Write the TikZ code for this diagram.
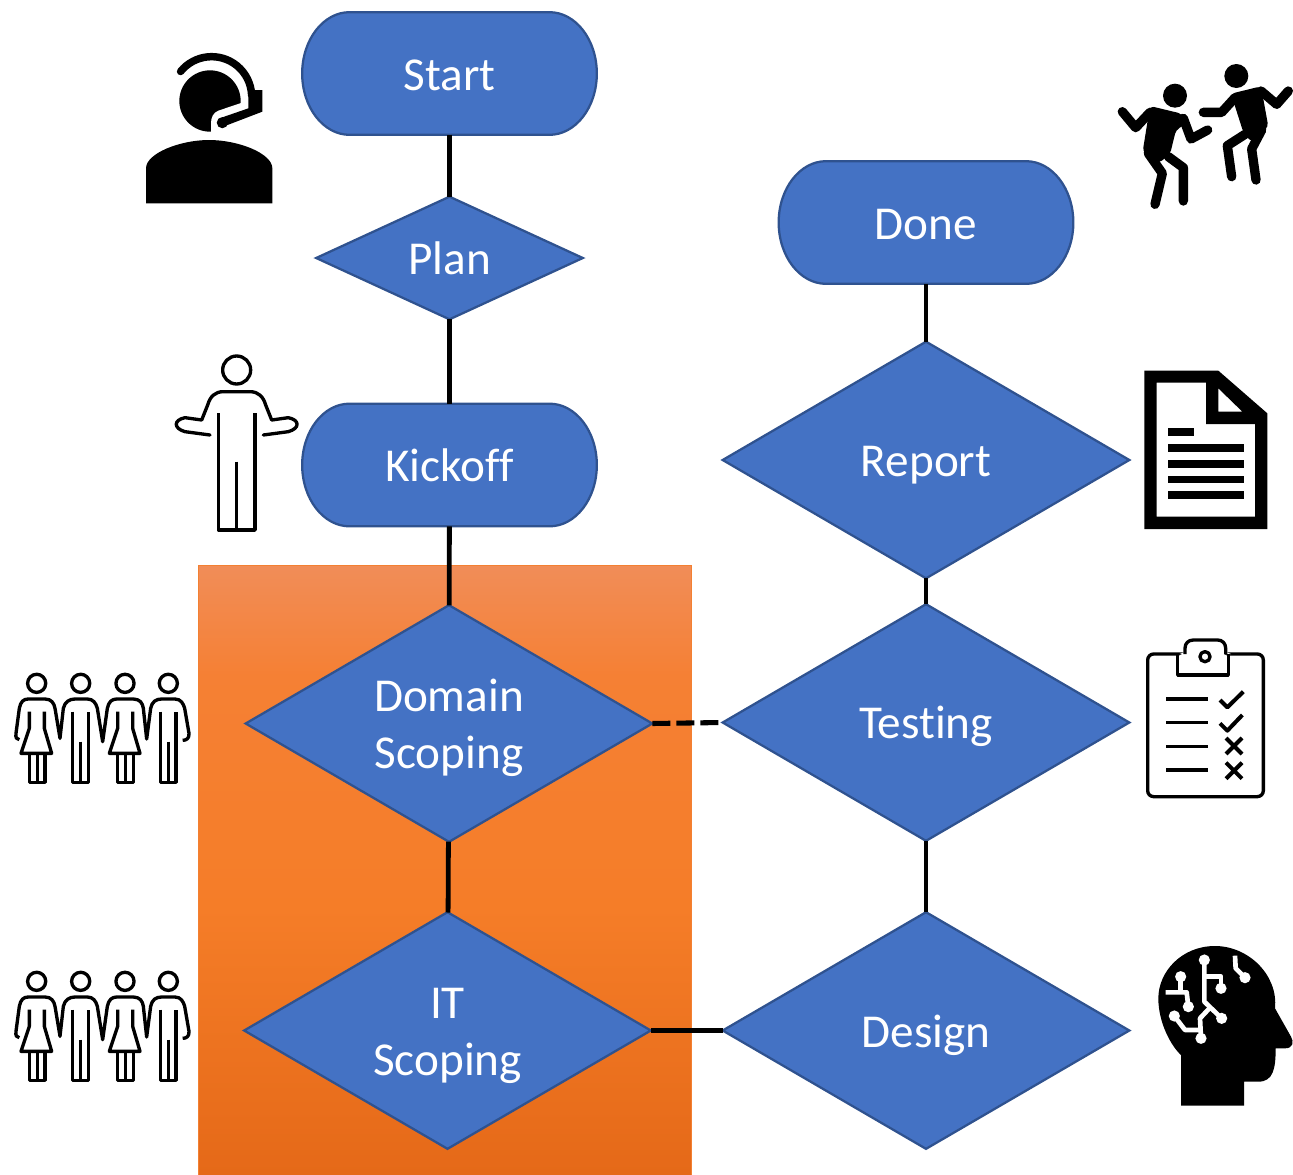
\documentclass[tikz,border=0pt]{standalone}
\usepackage{fontspec}
\setmainfont{Carlito}[Ligatures=NoCommon]
\usetikzlibrary{shapes.geometric}
\definecolor{blockblue}{HTML}{4472C4}
\definecolor{blockedge}{HTML}{2F528F}
\definecolor{orA}{RGB}{241,141,88}
\definecolor{orB}{RGB}{245,128,52}
\definecolor{orC}{RGB}{245,125,40}
\definecolor{orD}{RGB}{229,105,24}
\definecolor{orEdge}{RGB}{243,128,50}
\pgfdeclareverticalshading{orangefade}{100bp}{color(0bp)=(orD); color(25bp)=(orD); color(47bp)=(orC); color(66bp)=(orB); color(75bp)=(orA); color(100bp)=(orA)}
\makeatletter
\pgfdeclareshape{terminator}{
  \inheritsavedanchors[from=rectangle]
  \inheritanchorborder[from=rectangle]
  \inheritanchor[from=rectangle]{center}
  \inheritanchor[from=rectangle]{text}
  \inheritanchor[from=rectangle]{north}
  \inheritanchor[from=rectangle]{south}
  \inheritanchor[from=rectangle]{east}
  \inheritanchor[from=rectangle]{west}
  \backgroundpath{
    \southwest \edef\termL{\the\pgf@x}\edef\termB{\the\pgf@y}
    \northeast \edef\termR{\the\pgf@x}\edef\termT{\the\pgf@y}
    \pgfmathsetlengthmacro\termW{\termR-\termL}
    \pgfmathsetlengthmacro\termH{\termT-\termB}
    \pgfmathsetlengthmacro\termM{\termB+0.5*\termH}
    \pgfmathsetlengthmacro\termXa{\termL+0.161*\termW}
    \pgfmathsetlengthmacro\termXb{\termL+0.072*\termW}
    \pgfmathsetlengthmacro\termXc{\termR-0.161*\termW}
    \pgfmathsetlengthmacro\termXd{\termR-0.072*\termW}
    \pgfmathsetlengthmacro\termYa{\termM+0.27615*\termH}
    \pgfmathsetlengthmacro\termYb{\termM-0.27615*\termH}
    \pgfpathmoveto{\pgfpoint{\termXa}{\termT}}
    \pgfpathcurveto{\pgfpoint{\termXb}{\termT}}{\pgfpoint{\termL}{\termYa}}{\pgfpoint{\termL}{\termM}}
    \pgfpathcurveto{\pgfpoint{\termL}{\termYb}}{\pgfpoint{\termXb}{\termB}}{\pgfpoint{\termXa}{\termB}}
    \pgfpathlineto{\pgfpoint{\termXc}{\termB}}
    \pgfpathcurveto{\pgfpoint{\termXd}{\termB}}{\pgfpoint{\termR}{\termYb}}{\pgfpoint{\termR}{\termM}}
    \pgfpathcurveto{\pgfpoint{\termR}{\termYa}}{\pgfpoint{\termXd}{\termT}}{\pgfpoint{\termXc}{\termT}}
    \pgfpathclose
  }
}
\makeatother
\newcommand{\lbl}[2]{\smash{\raisebox{-#1pt}{#2}}}
\tikzset{
  x=0.75pt,y=-0.75pt,
  labelfont/.style={font=\fontsize{35.4}{42.75}\selectfont,text=white,align=center},
  terminal/.style={shape=terminator,outer sep=0pt,draw=blockedge,fill=blockblue,line width=1.7pt,minimum width=221pt,minimum height=92pt,inner sep=0pt,labelfont},
  decision/.style={diamond,aspect=1.72,outer sep=0pt,draw=blockedge,fill=blockblue,line width=1.7pt,inner sep=0pt,labelfont},
  small decision/.style={decision,minimum width=200pt,minimum height=92pt},
  big decision/.style={decision,minimum width=305pt,minimum height=177.5pt},
  link/.style={line width=3.6pt,black},
  dashlink/.style={line width=3.8pt,black,dash pattern=on 13.5pt off 4.5pt},
  zoomat/.style 2 args={shift={(#1,#2)},x=0.25pt,y=-0.25pt},
  iconline/.style={line width=2.5pt,black,line join=round,fill=none},
  limb/.style={line width=7pt,black,line cap=round,line join=round},
  circuit/.style={line width=3.5pt,white,line join=round},
}
\newcommand{\womanicon}[1]{%
  \begin{scope}[shift={(#1,0)}]
    \draw[iconline] (0,55) circle[radius=6.8pt];
    \draw[iconline] (-22,140) -- (-22,190) -- (-47,265) -- (45,265) -- (23,190) -- (23,140);
    \draw[iconline] (-22,265) -- (-22,352) -- (25,352) -- (25,265) (2,265) -- (2,352);
  \end{scope}}
\newcommand{\manicon}[1]{%
  \begin{scope}[shift={(#1,0)}]
    \draw[iconline] (0,55) circle[radius=6.8pt];
    \draw[iconline] (-24,140) -- (-24,352) -- (23,352) -- (23,140) (0,230) -- (0,352);
  \end{scope}}
\newcommand{\teamicon}[2]{%
  \begin{scope}[zoomat={#1}{#2}]
    \womanicon{80}\manicon{212}\womanicon{345}\manicon{475}
    \draw[iconline] (28,224) .. controls (20,224) and (16,218) .. (18,205) -- (28,130) .. controls (32,110) and (40,102) .. (55,102) -- (105,102) .. controls (125,102) and (132,115) .. (135,130) -- (150,220) -- (160,130) .. controls (165,110) and (178,102) .. (195,102) -- (232,102) .. controls (250,102) and (258,115) .. (262,130) -- (278,230) -- (292,130) .. controls (296,110) and (306,102) .. (320,102) -- (370,102) .. controls (390,102) and (398,115) .. (400,130) -- (410,222) -- (422,130) .. controls (426,110) and (438,102) .. (455,102) -- (495,102) .. controls (512,102) and (520,115) .. (524,130) -- (537,205) .. controls (538,220) and (530,226) .. (518,226);
  \end{scope}}
\begin{document}
\begin{tikzpicture}
\useasboundingbox (0,0) rectangle (1293,1175);
\fill[shading=orangefade] (198.5,565.5) rectangle (691.5,1175);
\draw[line width=1pt,color=orEdge] (198.5,1175) -- (198.5,565.5) -- (691.5,565.5) -- (691.5,1175);

\node[terminal] (start) at (449.5,73.5) {\lbl{13}{Start}};
\node[small decision] (plan) at (449.5,258) {\lbl{12}{Plan}};
\node[terminal] (kickoff) at (449.5,465) {\lbl{12.5}{Kickoff}};
\node[big decision] (domain) at (449,723.5) {\lbl{12.5}{Domain}\\\lbl{12.5}{Scoping}};
\node[big decision] (it) at (447.5,1030.5) {\lbl{12}{IT}\\\lbl{12}{Scoping}};
\node[terminal] (done) at (926,222.5) {\lbl{13}{Done}};
\node[big decision] (report) at (926,460) {\lbl{12}{Report}};
\node[big decision] (testing) at (926,722.5) {\lbl{12}{Testing}};
\node[big decision] (design) at (926,1030.5) {\lbl{12.4}{Design}};

\draw[link] (start) -- (plan);
\draw[link] (plan) -- (kickoff);
\draw[link] (kickoff) -- (domain);
\draw[link] (domain) -- (it);
\draw[link] (it) -- (design);
\draw[dashlink] (domain.east) -- (testing.west);
\draw[link] (design) -- (testing);
\draw[link] (testing) -- (report);
\draw[link] (report) -- (done);

% agent
\begin{scope}[zoomat={130}{40}]
  \fill (48,490) -- (48,385) .. controls (48,340) and (150,300) .. (237,300) .. controls (325,300) and (427,340) .. (427,385) -- (427,490) -- cycle;
  \fill (240,183) circle[radius=23pt];
  \fill[white] (336,188) -- (265,212) .. controls (250,218) and (243,232) .. (243,250) -- (243,285) -- (350,285) -- (350,188) -- cycle;
  \draw[line width=5.6pt,line cap=round] (151.7,94.5) arc[start angle=141,end angle=2,radius=30pt];
  \fill (355,150) -- (397,150) -- (397,215) -- (290,256) -- (277,232) -- (355,205) -- cycle;
  \fill (277,248) circle[radius=4.2pt];
\end{scope}

% dancers
\begin{scope}[zoomat={1105}{55}]
  \fill (210,122) circle[radius=9pt];
  \fill (394,63) circle[radius=9pt];
  \fill[rounded corners=3pt] (135,153) -- (230,176) -- (245,205) -- (213,225) -- (195,298) -- (160,325) -- (113,290) -- cycle;
  \draw[limb] (52,170) -- (92,218) -- (135,172);
  \draw[limb] (235,190) -- (258,252) -- (308,225);
  \draw[limb] (130,295) -- (172,355) -- (150,448);
  \draw[limb] (190,305) -- (235,338) -- (235,438);
  \fill[rounded corners=3pt] (378,116) -- (468,94) -- (490,215) -- (440,262) -- (415,232) -- (392,160) -- cycle;
  \draw[limb] (295,172) -- (350,172) -- (390,128);
  \draw[limb] (468,108) -- (515,148) -- (550,108);
  \draw[limb] (420,238) -- (367,272) -- (380,365);
  \draw[limb] (470,225) -- (440,282) -- (453,375);
\end{scope}

% shrug
\begin{scope}[zoomat={165}{345}]
  \draw[iconline] (215,75) circle[radius=10.5pt];
  \draw[iconline] (160,205) -- (160,555) -- (270,555) -- (270,205) (215,350) -- (215,555);
  \draw[iconline,line cap=round] (135,270) -- (60,260) .. controls (25,250) and (25,225) .. (60,218) -- (110,225) -- (128,180) .. controls (135,155) and (150,140) .. (175,140) -- (255,140) .. controls (280,140) and (295,155) .. (302,180) -- (320,225) -- (370,218) .. controls (405,225) and (405,250) .. (370,260) -- (295,270);
\end{scope}

% teams
\teamicon{10}{665}
\teamicon{10}{963}

% document
\begin{scope}[zoomat={1135}{360}]
  \fill[even odd rule] (28,32) -- (250,32) -- (397,160) -- (397,507) -- (28,507) -- cycle
    (65,68) -- (213,68) -- (213,192) -- (360,192) -- (360,470) -- (65,470) -- cycle
    (250,85) -- (322,155) -- (250,155) -- cycle;
  \fill (100,204) rectangle (177,228);
  \fill (100,252) rectangle (327,275);
  \fill (100,300) rectangle (327,324);
  \fill (100,347) rectangle (327,370);
  \fill (100,394) rectangle (327,417);
\end{scope}

% clipboard
\begin{scope}[zoomat={1135}{630}]
  \draw[iconline,rounded corners=4.5pt] (38,72) rectangle (385,500);
  \fill[white,rounded corners=4pt] (128,135) -- (128,72) -- (150,72) -- (150,30) -- (272,30) -- (272,72) -- (280,72) -- (280,135) -- cycle;
  \draw[iconline] (128,72) -- (128,135) -- (280,135) -- (280,72);
  \draw[iconline] (150,72) -- (150,55) .. controls (150,40) and (160,30) .. (175,30) -- (248,30) .. controls (262,30) and (272,40) .. (272,55) -- (272,72);
  \draw[iconline] (210,80) circle[radius=3.8pt];
  \draw[iconline] (93,207) -- (218,207) (93,278) -- (218,278) (93,350) -- (218,350) (93,420) -- (218,420);
  \draw[iconline,line width=3pt] (255,210) -- (277,232) -- (325,185);
  \draw[iconline,line width=3pt] (255,280) -- (277,302) -- (322,255);
  \draw[iconline,line width=3pt] (273,324) -- (321,372) (321,324) -- (273,372);
  \draw[iconline,line width=3pt] (273,398) -- (321,446) (321,398) -- (273,446);
\end{scope}

% brain head
\begin{scope}[zoomat={1145}{935}]
  \fill (108,512) -- (297,512) -- (297,440) -- (340,440) .. controls (385,440) and (392,400) .. (392,340) -- (420,340) .. controls (445,340) and (447,320) .. (438,305) -- (390,220) .. controls (400,120) and (310,33) .. (210,33) .. controls (110,33) and (40,110) .. (40,190) .. controls (40,265) and (80,335) .. (108,360) -- cycle;
  \draw[circuit] (178,75) -- (178,200) -- (230,250);
  \draw[circuit] (178,125) -- (228,125) -- (228,160);
  \draw[circuit] (107,125) -- (107,172);
  \draw[circuit] (62,172) -- (125,172) -- (130,215);
  \draw[circuit] (88,243) -- (120,285) -- (168,285);
  \draw[circuit] (168,310) -- (165,250) -- (195,218);
  \draw[circuit] (270,62) -- (272,100) -- (300,128);
  \fill[white] (178,75) circle[radius=4.2pt] (228,160) circle[radius=4.2pt] (107,125) circle[radius=4.2pt] (130,215) circle[radius=4.2pt] (230,250) circle[radius=4.2pt] (88,243) circle[radius=4.2pt] (168,310) circle[radius=4.2pt] (300,128) circle[radius=4.2pt];
\end{scope}
\end{tikzpicture}
\end{document}
